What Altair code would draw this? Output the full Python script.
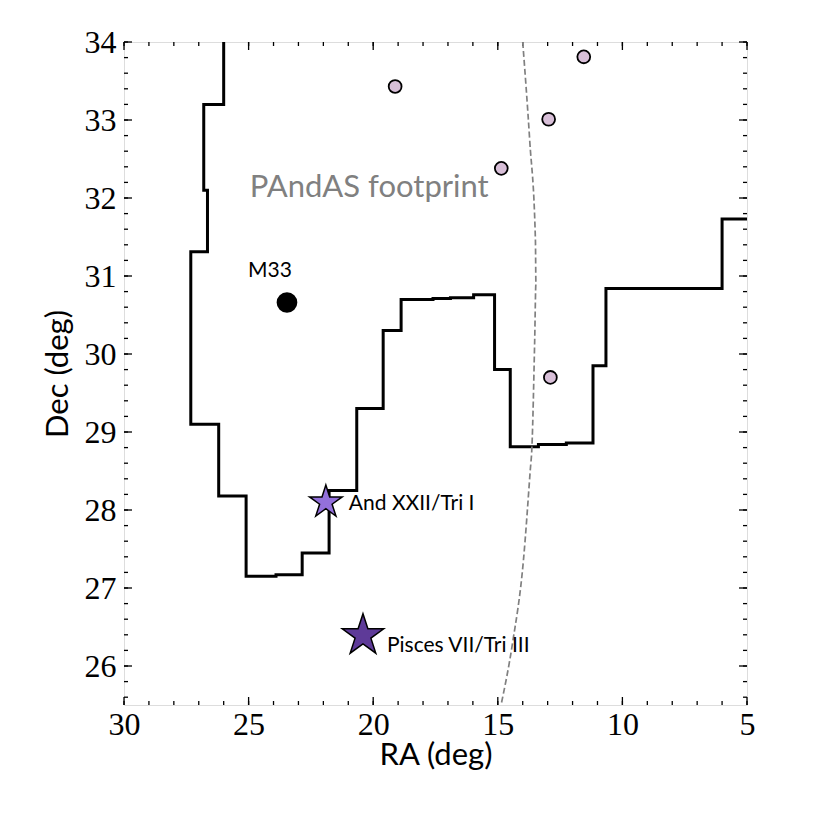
import math
import altair as alt
import pandas as pd

# ---------------- data ----------------
foot_ra = [26.0, 26.0, 26.8, 26.8, 26.65, 26.65, 27.32, 27.32, 26.2, 26.2, 25.1, 25.1,
           23.9, 23.9, 22.85, 22.85, 21.77, 21.77, 20.66, 20.66, 19.6, 19.6, 18.88, 18.88,
           17.6, 17.6, 16.9, 16.9, 15.97, 15.97, 15.13, 15.13, 14.5, 14.5, 13.37, 13.37,
           12.25, 12.25, 11.18, 11.18, 10.66, 10.66, 6.0, 6.0, 5.0]
foot_dec = [34.0, 33.2, 33.2, 32.1, 32.1, 31.31, 31.31, 29.1, 29.1, 28.18, 28.18, 27.15,
            27.15, 27.17, 27.17, 27.45, 27.45, 28.25, 28.25, 29.3, 29.3, 30.3, 30.3, 30.7,
            30.7, 30.71, 30.71, 30.72, 30.72, 30.76, 30.76, 29.8, 29.8, 28.81, 28.81, 28.84,
            28.84, 28.86, 28.86, 29.85, 29.85, 30.84, 30.84, 31.73, 31.73]

curve_ra = [14.0, 13.72, 13.49, 13.47, 13.52, 13.63, 13.7, 13.97, 14.41, 14.87]
curve_dec = [34.0, 32.74, 31.46, 30.9, 30.17, 28.81, 28.5, 27.36, 26.29, 25.5]

sat_ra = [19.12, 14.86, 12.96, 11.55, 12.89]
sat_dec = [33.43, 32.38, 33.01, 33.81, 29.70]

m33_ra = [23.46]
m33_dec = [30.66]
m33_label = ["M33"]

star_names = ["And XXII/Tri I", "Pisces VII/Tri III"]
star_ra = [21.9, 20.41]
star_dec = [28.10, 26.39]

footprint_label = ["PAndAS footprint"]
footprint_label_ra = [20.16]
footprint_label_dec = [32.01]

x_major = [30, 25, 20, 15, 10, 5]
x_minor = list(range(5, 31))
y_major = [26, 27, 28, 29, 30, 31, 32, 33, 34]
y_minor = [round(25.6 + 0.2 * i, 1) for i in range(43)]

# ---------------- layout ----------------
W, H = 623, 663
SANS = "Lato"
SERIF = "Liberation Serif"

xs = alt.Scale(domain=[5, 30], reverse=True, zero=False, nice=False)
ys = alt.Scale(domain=[25.5, 34], zero=False, nice=False)

xaxis = alt.Axis(values=x_major, format="d", ticks=False, domain=False, grid=False,
                 labelFont=SERIF, labelFontSize=32, labelColor="black", labelPadding=4,
                 labelFlush=False, labelOverlap=False,
                 title="RA (deg)", titleFont=SANS, titleFontSize=31,
                 titleFontWeight="normal", titleColor="black", titlePadding=0)
yaxis = alt.Axis(values=y_major, format="d", ticks=False, domain=False, grid=False,
                 labelFont=SERIF, labelFontSize=32, labelColor="black", labelPadding=8,
                 labelFlush=False, labelOverlap=False,
                 title="Dec (deg)", titleFont=SANS, titleFontSize=31,
                 titleFontWeight="normal", titleColor="black", titlePadding=10)

X = alt.X("ra:Q", scale=xs, axis=xaxis)
Y = alt.Y("dec:Q", scale=ys, axis=yaxis)

foot_df = pd.DataFrame({"ra": foot_ra, "dec": foot_dec, "i": range(len(foot_ra))})
curve_df = pd.DataFrame({"ra": curve_ra, "dec": curve_dec, "i": range(len(curve_ra))})
sat_df = pd.DataFrame({"ra": sat_ra, "dec": sat_dec})
m33_df = pd.DataFrame({"ra": m33_ra, "dec": m33_dec, "label": m33_label})
star_df = pd.DataFrame({"ra": star_ra, "dec": star_dec, "name": star_names})
fp_df = pd.DataFrame({"ra": footprint_label_ra, "dec": footprint_label_dec, "label": footprint_label})

# star symbol path (unit radius)
pts = []
for k in range(10):
    a = math.radians(36 * k)
    r = 1.0 if k % 2 == 0 else 0.381966
    pts.append((r * math.sin(a), -r * math.cos(a)))
STAR = "M" + " L".join(f"{x:.4f},{y:.4f}" for x, y in pts) + " Z"

footprint = alt.Chart(foot_df).mark_line(
    color="black", strokeWidth=3, strokeJoin="miter", strokeCap="butt", clip=True
).encode(x=X, y=Y, order="i:Q")

curve = alt.Chart(curve_df).mark_line(
    color="#808080", strokeWidth=1.7, strokeDash=[6, 3], interpolate="monotone", clip=True
).encode(x=X, y=Y, order="i:Q")

sats = alt.Chart(sat_df).mark_point(
    shape="circle", filled=True, fill="#D8BFD8", stroke="black", strokeWidth=1.8,
    size=165, opacity=1
).encode(x=X, y=Y)

m33 = alt.Chart(m33_df).mark_point(
    shape="circle", filled=True, fill="black", stroke="black", size=350, opacity=1
).encode(x=X, y=Y)

m33_text = alt.Chart(m33_df).mark_text(
    font=SANS, fontSize=21, color="black", align="center", baseline="alphabetic",
    dx=-17, dy=-26
).encode(x=X, y=Y, text="label:N")

star1 = alt.Chart(star_df.iloc[[0]]).mark_point(
    shape=STAR, filled=True, fill="#9370DB", stroke="black", strokeWidth=1.5,
    size=1180, opacity=1
).encode(x=X, y=Y)
star2 = alt.Chart(star_df.iloc[[1]]).mark_point(
    shape=STAR, filled=True, fill="#5E3A98", stroke="black", strokeWidth=1.5,
    size=1900, opacity=1
).encode(x=X, y=Y)

star1_text = alt.Chart(star_df.iloc[[0]]).mark_text(
    font=SANS, fontSize=21, color="black", align="left", baseline="alphabetic",
    dx=23, dy=8
).encode(x=X, y=Y, text="name:N")
star2_text = alt.Chart(star_df.iloc[[1]]).mark_text(
    font=SANS, fontSize=21, color="black", align="left", baseline="alphabetic",
    dx=24, dy=16
).encode(x=X, y=Y, text="name:N")

fp_text = alt.Chart(fp_df).mark_text(
    font=SANS, fontSize=31, color="#808080", align="center", baseline="alphabetic"
).encode(x=X, y=Y, text="label:N")

# inward ticks
def xticks(vals, length):
    df = pd.DataFrame({"ra": vals})
    bot = alt.Chart(df).mark_rule(color="black", strokeWidth=1.3).encode(
        x=X, y=alt.value(H), y2=alt.value(H - length))
    top = alt.Chart(df).mark_rule(color="black", strokeWidth=1.3).encode(
        x=X, y=alt.value(0), y2=alt.value(length))
    return [bot, top]

def yticks(vals, length):
    df = pd.DataFrame({"dec": vals})
    left = alt.Chart(df).mark_rule(color="black", strokeWidth=1.3).encode(
        y=Y, x=alt.value(0), x2=alt.value(length))
    right = alt.Chart(df).mark_rule(color="black", strokeWidth=1.3).encode(
        y=Y, x=alt.value(W), x2=alt.value(W - length))
    return [left, right]

ticks = xticks(x_major, 8) + xticks(x_minor, 4) + yticks(y_major, 8) + yticks(y_minor, 4)

chart = alt.layer(
    *ticks, footprint, curve, sats, m33, m33_text, star1, star2, star1_text, star2_text, fp_text
).properties(
    width=W, height=H,
    autosize=alt.AutoSizeParams(type="none"),
    padding={"left": 116, "top": 34, "right": 60, "bottom": 100},
).configure_view(
    stroke="black", strokeWidth=2
).configure(background="white")

chart.save("out.html", embed_options={"renderer": "svg", "actions": False})
